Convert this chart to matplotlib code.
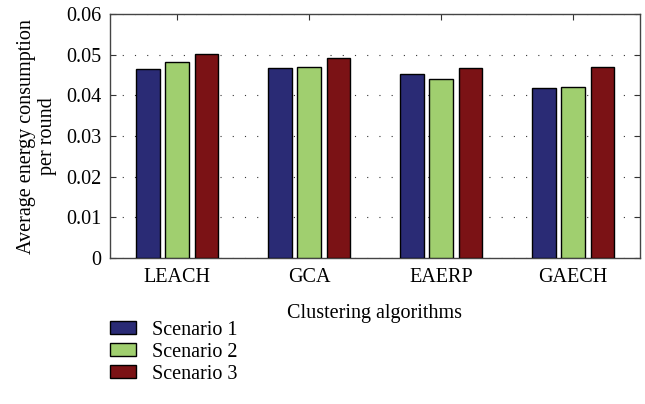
import numpy as np
import matplotlib
matplotlib.use('Agg')
import matplotlib.pyplot as plt

algorithms = ['LEACH', 'GCA', 'EAERP', 'GAECH']
scenario_1 = [0.0465, 0.0467, 0.0452, 0.0419]
scenario_2 = [0.0482, 0.0470, 0.0441, 0.0422]
scenario_3 = [0.0502, 0.0492, 0.0468, 0.0470]
series_labels = ['Scenario 1', 'Scenario 2', 'Scenario 3']
colors = ['#2a2b75', '#a0cf6f', '#7b1215']

plt.rcParams['font.family'] = ['Liberation Serif', 'DejaVu Serif']
FS = 14.5

fig = plt.figure(figsize=(6.45, 4.04), dpi=100)
ax = fig.add_axes([0.1705, 0.361, 0.8215, 0.604])

x = np.arange(len(algorithms))
width = 0.18
step = 0.222
for i, (vals, lab, col) in enumerate(zip([scenario_1, scenario_2, scenario_3],
                                        series_labels, colors)):
    ax.bar(x + (i - 1) * step, vals, width, color=col, edgecolor='black',
           linewidth=1.0, label=lab, zorder=3)

ax.set_xlim(-0.51, 3.505)
ax.set_ylim(0, 0.06)
ax.set_yticks([0, 0.01, 0.02, 0.03, 0.04, 0.05, 0.06])
ax.set_yticklabels(['0', '0.01', '0.02', '0.03', '0.04', '0.05', '0.06'])
ax.set_xticks(x)
ax.set_xticklabels(algorithms)
ax.tick_params(direction='in', top=True, right=True, labelsize=FS,
               length=4, color='#333333')
ax.tick_params(axis='x', pad=7)
ax.tick_params(axis='y', pad=6)
ax.grid(axis='y', linestyle=(0, (1, 10)), color='#333333', linewidth=0.8,
        zorder=0)
for s in ax.spines.values():
    s.set_color('#444444')
    s.set_linewidth(1.0)

ax.set_xlabel('Clustering algorithms', fontsize=FS, labelpad=12)
ax.set_ylabel('Average energy consumption\nper round', fontsize=FS,
              linespacing=1.1, labelpad=7)

fig.legend(loc='upper left', bbox_to_anchor=(0.158, 0.226), frameon=False,
           fontsize=FS, handlelength=1.3, handleheight=0.65,
           labelspacing=0.15, handletextpad=0.8, borderaxespad=0)

fig.savefig('out.png', dpi=100)
